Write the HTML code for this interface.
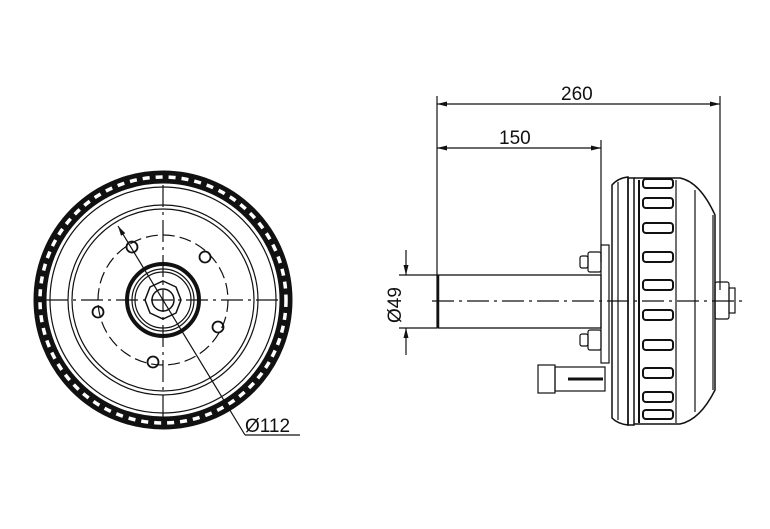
<!DOCTYPE html>
<html><head><style>
html,body{margin:0;padding:0;background:#fff;width:770px;height:529px;overflow:hidden}
text{font-family:"Liberation Sans",sans-serif;fill:#111}
</style></head><body>
<svg width="770" height="529" viewBox="0 0 770 529" xmlns="http://www.w3.org/2000/svg">
<defs>
<marker id="ar" markerWidth="10" markerHeight="6" refX="10" refY="3" orient="auto-start-reverse" markerUnits="userSpaceOnUse"><path d="M0,0.5 L10,3 L0,5.5 Z" fill="#111"/></marker>
</defs>
<g fill="none" stroke="#111" stroke-width="1.2">
<!-- LEFT VIEW -->
<circle cx="163" cy="300" r="123" stroke-width="13"/>
<circle cx="163" cy="300" r="123" stroke="#fff" stroke-width="3.5" stroke-dasharray="7 6"/>
<circle cx="163" cy="300" r="113"/>
<circle cx="163" cy="300" r="95"/>
<circle cx="163" cy="300" r="91"/>
<circle cx="163" cy="300" r="65" stroke-dasharray="12 5"/>
<circle cx="163" cy="300" r="36" stroke-width="4"/>
<circle cx="163" cy="300" r="31"/>
<circle cx="163" cy="300" r="28"/>
<polygon points="163,281 176,287 181,300 176,313 163,319 150,313 145,300 150,287" stroke-width="1.5"/>
<circle cx="163" cy="300" r="11" stroke-width="1.5"/>
<g stroke-width="1.8">
<circle cx="132" cy="247" r="5.5"/><circle cx="205" cy="257" r="5.5"/><circle cx="98" cy="312" r="5.5"/><circle cx="218" cy="327" r="5.5"/><circle cx="153" cy="362" r="5.5"/>
</g>
<line x1="46" y1="300" x2="282" y2="300" stroke-dasharray="22 5 3 5"/>
<line x1="163" y1="185" x2="163" y2="418" stroke-dasharray="22 5 3 5"/>
<line x1="118" y1="226" x2="245" y2="435" marker-start="url(#ar)"/>
<line x1="245" y1="435" x2="300" y2="435"/>
<!-- RIGHT VIEW: dims -->
<line x1="437" y1="96" x2="437" y2="328"/>
<line x1="601" y1="140" x2="601" y2="262"/>
<line x1="720" y1="96" x2="720" y2="290"/>
<line x1="437" y1="104" x2="720" y2="104" marker-start="url(#ar)" marker-end="url(#ar)"/>
<line x1="437" y1="148" x2="601" y2="148" marker-start="url(#ar)" marker-end="url(#ar)"/>
<line x1="399" y1="275" x2="437" y2="275"/>
<line x1="399" y1="328" x2="437" y2="328"/>
<line x1="406" y1="250" x2="406" y2="275" marker-end="url(#ar)"/>
<line x1="406" y1="355" x2="406" y2="328" marker-end="url(#ar)"/>
<!-- axle -->
<rect x="438" y="275" width="163" height="53" stroke-width="1.3"/>
<line x1="438" y1="275" x2="438" y2="328" stroke-width="2.5"/>
<line x1="432" y1="301" x2="745" y2="301" stroke-dasharray="22 5 3 5"/>
<!-- flange -->
<rect x="601" y="245" width="8" height="118"/>
<!-- bolts -->
<rect x="588" y="252" width="13" height="20" rx="2"/><rect x="580" y="256" width="8" height="12" rx="2"/>
<rect x="588" y="330" width="13" height="20" rx="2"/><rect x="580" y="334" width="8" height="12" rx="2"/>
<!-- bleeder -->
<rect x="538" y="365" width="17" height="28"/>
<rect x="555" y="367" width="50" height="24"/>
<line x1="568" y1="379" x2="603" y2="379" stroke-width="3"/>
<!-- drum -->
<path d="M612,185 Q618,178 628,177 L628,425 Q618,424 612,418 Z" stroke-width="1.5"/>
<line x1="618" y1="182" x2="618" y2="420"/>
<rect x="628" y="178" width="6" height="247" stroke-width="1.5"/>
<line x1="639" y1="180" x2="639" y2="423" stroke-width="2"/>
<path d="M634,178 L680,178 Q700,182 715,215 L715,390 Q700,420 680,424 L634,424" stroke-width="1.5"/>
<line x1="676" y1="180" x2="676" y2="423"/>
<line x1="695" y1="190" x2="695" y2="412"/>
<line x1="713" y1="215" x2="713" y2="390"/>
<g stroke-width="2" fill="#fff">
<rect x="643" y="179" width="30" height="9" rx="3"/>
<rect x="643" y="198" width="30" height="10" rx="3"/>
<rect x="643" y="223" width="30" height="10" rx="3"/>
<rect x="643" y="252" width="30" height="10" rx="3"/>
<rect x="643" y="280" width="30" height="10" rx="3"/>
<rect x="643" y="310" width="30" height="10" rx="3"/>
<rect x="643" y="340" width="30" height="10" rx="3"/>
<rect x="643" y="368" width="30" height="10" rx="3"/>
<rect x="643" y="392" width="30" height="10" rx="3"/>
<rect x="643" y="410" width="30" height="9" rx="3"/>
</g>
<!-- hub nut -->
<rect x="715" y="282" width="14" height="37" rx="2"/>
<rect x="729" y="288" width="6" height="25"/>
</g>
<text x="245" y="432" font-size="19">Ø112</text>
<text x="561" y="100" font-size="19">260</text>
<text x="499" y="144" font-size="19">150</text>
<text x="0" y="0" font-size="19" transform="translate(401,323) rotate(-90)">Ø49</text>
</svg>
</body></html>
